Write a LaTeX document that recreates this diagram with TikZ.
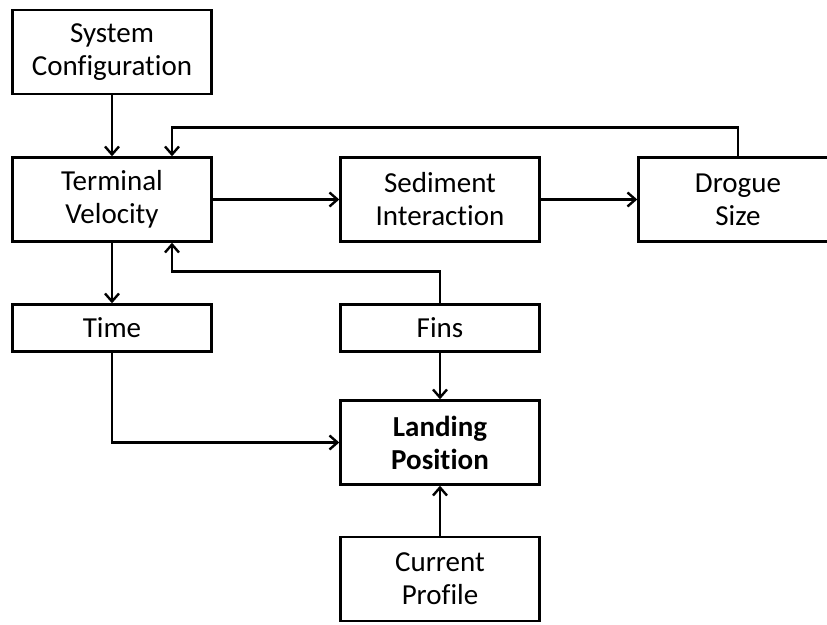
\documentclass[tikz,border=0pt]{standalone}
\usepackage{fontspec}
\setmainfont{Carlito}[Ligatures=CommonOff]
\usetikzlibrary{arrows.meta,positioning}

\begin{document}
\begin{tikzpicture}[%
	node distance=100pt,on grid,>={Straight Barb[length=8pt,width=14pt]},
	block/.style={draw,line width=2.4pt,minimum width=199pt,minimum height=84pt,
		inner sep=0pt,align=center,font=\fontsize{29}{33}\selectfont},
	slim/.style={block,minimum height=47pt},
	link/.style={->,line width=2.4pt}]

	\clip (-112pt,52pt) rectangle (715pt,-572pt);

	\node[block]	(SC)						{System\\Configuration};
	\node[block]	(TV)	[below=147.5pt of SC]	{Terminal\\Velocity};
	\node[block]	(SI)	[right=328pt of TV]	{Sediment\\Interaction};
	\node[block]	(DS)	[right=298pt of SI]	{Drogue\\Size};
	\node[slim]		(TI)	[below=128.5pt of TV]	{Time};
	\node[slim]		(FI)	[right=328pt of TI]	{Fins};
	\node[block]	(LP)	[below=114.5pt of FI]	{\bfseries Landing\\\bfseries Position};
	\node[block]	(CP)	[below=136.5pt of LP]	{Current\\Profile};

	\draw[link] (SC) -- (TV);
	\draw[link] (TV) -- (SI);
	\draw[link] (SI) -- (DS);
	\draw[link] (DS.north) -- ++(0,29pt) -| ([xshift=60pt]TV.north);
	\draw[link] (TV) -- (TI);
	\draw[link] (FI.north) -- ++(0,32pt) -| ([xshift=60pt]TV.south);
	\draw[link] (FI) -- (LP);
	\draw[link] (TI.south) |- (LP.west);
	\draw[link] (CP) -- (LP);

\end{tikzpicture}
\end{document}
